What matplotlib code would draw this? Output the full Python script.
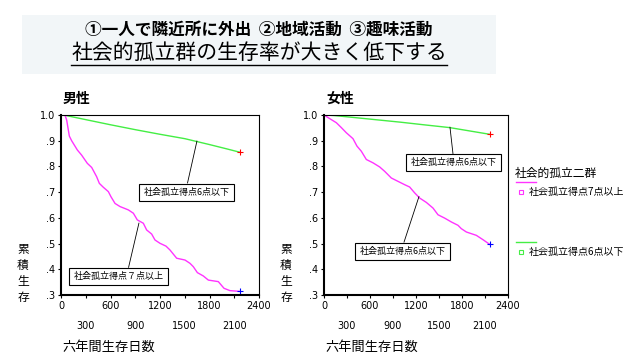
import numpy as np
import matplotlib
matplotlib.use('Agg')
import matplotlib.pyplot as plt
from matplotlib.lines import Line2D
from matplotlib.patches import Rectangle

plt.rcParams['font.family'] = ['Noto Sans CJK JP', 'DejaVu Sans']

# survival curves (days, cumulative survival)
male_hi_days = [0, 48, 69, 101, 129, 198, 250, 319, 372, 432, 465, 513, 574, 606, 655, 715, 816, 877,
                925, 998, 1038, 1099, 1139, 1200, 1273, 1321, 1402, 1503, 1564, 1604, 1653, 1725,
                1786, 1907, 1976, 2048, 2170]
male_hi_surv = [1.0, 1.0, 0.98, 0.918, 0.90, 0.864, 0.844, 0.812, 0.796, 0.76, 0.734, 0.719, 0.702,
                0.682, 0.656, 0.644, 0.631, 0.618, 0.592, 0.579, 0.553, 0.537, 0.514, 0.501, 0.49,
                0.475, 0.443, 0.436, 0.423, 0.41, 0.387, 0.374, 0.358, 0.352, 0.326, 0.317, 0.314]
male_lo_days = [0, 60, 300, 600, 900, 1200, 1500, 1800, 2000, 2170]
male_lo_surv = [1.0, 0.998, 0.982, 0.962, 0.943, 0.925, 0.908, 0.885, 0.869, 0.855]

female_hi_days = [0, 74, 161, 226, 291, 378, 430, 487, 552, 639, 726, 791, 878, 965, 1052, 1117,
                  1183, 1248, 1335, 1422, 1487, 1574, 1661, 1748, 1791, 1857, 1987, 2074, 2161]
female_hi_surv = [1.0, 0.986, 0.970, 0.951, 0.931, 0.908, 0.879, 0.859, 0.827, 0.814, 0.798, 0.781,
                  0.755, 0.742, 0.729, 0.720, 0.697, 0.677, 0.660, 0.638, 0.612, 0.599, 0.584,
                  0.571, 0.558, 0.545, 0.532, 0.515, 0.497]
female_lo_days = [0, 130, 400, 700, 1000, 1300, 1640, 1900, 2161]
female_lo_surv = [1.0, 0.998, 0.99, 0.981, 0.972, 0.962, 0.951, 0.938, 0.925]

title1 = '①一人で隣近所に外出  ②地域活動  ③趣味活動'
title2 = '社会的孤立群の生存率が大きく低下する'
panel_titles = ['男性', '女性']
lbl_lo = '社会孤立得点6点以下'
lbl_hi_m = '社会孤立得点７点以上'
legend_title = '社会的孤立二群'
legend_labels = ['社会孤立得点7点以上', '社会孤立得点6点以下']

GREEN = '#44ee44'
MAGENTA = '#ff33ff'

fig = plt.figure(figsize=(6.4, 3.61), dpi=100)
W, H = 640, 361

def fx(px):
    return px / W

def fy(py):
    return 1 - py / H

# title box
fig.patches.append(Rectangle((fx(22), fy(74)), fx(474), (74 - 15) / H, transform=fig.transFigure,
                             facecolor='#f2f6f8', edgecolor='none', zorder=0))
fig.text(fx(259), fy(31), title1, ha='center', va='center', fontsize=12, fontweight='bold')
t2 = fig.text(fx(259), fy(53), title2, ha='center', va='center', fontsize=15)

axes_px = [(61, 259), (324, 508)]
data = [(male_hi_days, male_hi_surv, male_lo_days, male_lo_surv),
        (female_hi_days, female_hi_surv, female_lo_days, female_lo_surv)]

axs = []
for i, (x0, x1) in enumerate(axes_px):
    ax = fig.add_axes([fx(x0), fy(295), fx(x1 - x0), (295 - 115) / H])
    axs.append(ax)
    hd, hs, ld, ls = data[i]
    ax.plot(ld, ls, color=GREEN, lw=1)
    ax.plot(hd, hs, color=MAGENTA, lw=1)
    ax.plot(ld[-1], ls[-1], '+', color='red', ms=5, mew=0.8)
    ax.plot(hd[-1], hs[-1], '+', color='blue', ms=5, mew=0.8)
    ax.set_xlim(0, 2400)
    ax.set_ylim(0.3, 1.0)
    ax.set_yticks([0.3, 0.4, 0.5, 0.6, 0.7, 0.8, 0.9, 1.0])
    ax.set_yticklabels(['.3', '.4', '.5', '.6', '.7', '.8', '.9', '1.0'], fontsize=7,
                       family='DejaVu Sans')
    ax.set_xticks([0, 300, 600, 900, 1200, 1500, 1800, 2100, 2400])
    ax.set_xticklabels(['0', '\n\n300', '600', '\n\n900', '1200', '\n\n1500', '1800', '\n\n2100', '2400'],
                       fontsize=7, family='DejaVu Sans', linespacing=1.0)
    ax.tick_params(length=2, width=0.8, pad=2)
    for s in ax.spines.values():
        s.set_linewidth(0.8)
    ax.spines['left'].set_linewidth(1.5)
    ax.spines['bottom'].set_linewidth(1.5)
    fig.text(fx(x0 + 2), fy(99), panel_titles[i], ha='left', va='center', fontsize=10, fontweight='bold')
    fig.text(fx(x0 + 1), fy(347), '六年間生存日数', ha='left', va='center', fontsize=9.5)
    fig.text(fx(x0 - 38), fy(273), '累\n積\n生\n存', ha='center', va='center', fontsize=8.5,
             linespacing=1.3)

box = dict(boxstyle='square,pad=0.45', fc='white', ec='black', lw=0.8)

def ann(relx):
    return dict(arrowstyle='-', color='black', lw=0.6, shrinkA=0, shrinkB=0, relpos=(relx, 1.0))

a0, a1 = axs
a0.annotate(lbl_lo, xy=(1648, 0.899), xytext=(1521, 0.70), fontsize=6.5, bbox=box,
            arrowprops=ann(0.5), ha='center', va='center')
a0.annotate(lbl_hi_m, xy=(945, 0.58), xytext=(697, 0.372), fontsize=6.5, bbox=box,
            arrowprops=ann(0.6), ha='center', va='center')
a1.annotate(lbl_lo, xy=(1643, 0.953), xytext=(1689, 0.814), fontsize=6.5, bbox=box,
            arrowprops=ann(0.5), ha='center', va='center')
a1.annotate(lbl_lo, xy=(1239, 0.683), xytext=(1024, 0.47), fontsize=6.5, bbox=box,
            arrowprops=ann(0.5), ha='center', va='center')

# legend drawn by hand to the right of the female panel
fig.text(fx(515), fy(173), legend_title, ha='left', va='center', fontsize=8.5)
for (ly, col, lab) in [(182, MAGENTA, legend_labels[0]), (242, GREEN, legend_labels[1])]:
    fig.lines.append(Line2D([fx(516), fx(536)], [fy(ly), fy(ly)], transform=fig.transFigure,
                            color=col, lw=1))
    fig.lines.append(Line2D([fx(521)], [fy(ly + 10)], transform=fig.transFigure, marker='s',
                            ms=3, mfc='white', mec=col, mew=0.8, ls='none'))
    fig.text(fx(529), fy(ly + 10), lab, ha='left', va='center', fontsize=7.2)

# underline for the second title line
fig.canvas.draw()
bb = t2.get_window_extent().transformed(fig.transFigure.inverted())
fig.lines.append(Line2D([bb.x0, bb.x1], [bb.y0 - 0.002, bb.y0 - 0.002], transform=fig.transFigure,
                        color='black', lw=1))

fig.savefig('out.png', dpi=100)
